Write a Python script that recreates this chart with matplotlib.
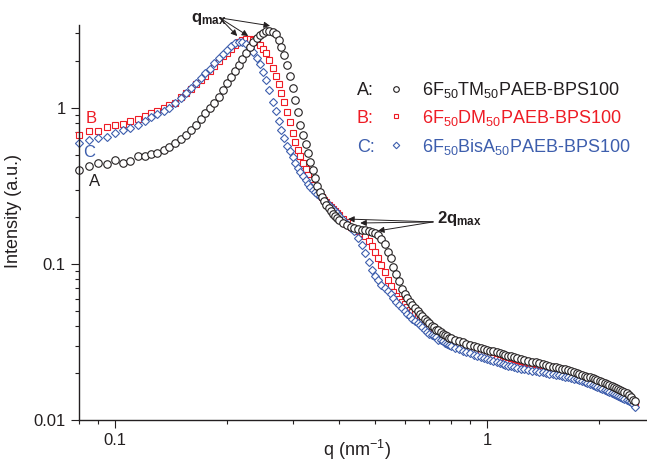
import matplotlib
matplotlib.use('Agg')
import matplotlib.pyplot as plt
from matplotlib import ticker

plt.rcParams['font.family'] = ['Liberation Sans', 'DejaVu Sans']
plt.rcParams['mathtext.fontset'] = 'custom'
plt.rcParams['mathtext.rm'] = 'Liberation Sans'
plt.rcParams['mathtext.it'] = 'Liberation Sans:italic'
plt.rcParams['mathtext.bf'] = 'Liberation Sans:bold'
plt.rcParams['mathtext.default'] = 'regular'

# scattering vector q (nm^-1), shared by the three samples
q = [0.080, 0.085, 0.090, 0.095, 0.100, 0.105, 0.110, 0.115, 0.120, 0.125,
     0.130, 0.135, 0.140, 0.145, 0.150, 0.155, 0.160, 0.165, 0.170, 0.175,
     0.180, 0.185, 0.190, 0.195, 0.200,
     0.205, 0.210, 0.215, 0.220, 0.225, 0.230, 0.235, 0.240, 0.245, 0.250,
     0.255, 0.260, 0.265, 0.270, 0.275, 0.280, 0.285, 0.290, 0.295, 0.300,
     0.305, 0.310, 0.315, 0.320, 0.325, 0.330, 0.335, 0.340, 0.345, 0.350,
     0.355, 0.360, 0.365, 0.370, 0.375, 0.380, 0.385, 0.390, 0.395, 0.400,
     0.41, 0.42, 0.43, 0.44, 0.45, 0.46, 0.47, 0.48, 0.49, 0.50,
     0.51, 0.52, 0.53, 0.54, 0.55, 0.56, 0.57, 0.58, 0.59, 0.60,
     0.61, 0.62, 0.63, 0.64, 0.65, 0.66, 0.67, 0.68, 0.69, 0.70,
     0.71, 0.72, 0.73, 0.74, 0.75, 0.76, 0.77, 0.78, 0.79, 0.80,
     0.82, 0.84, 0.86, 0.88, 0.90, 0.92, 0.94, 0.96, 0.98, 1.00,
     1.02, 1.04, 1.06, 1.08, 1.10, 1.12, 1.14, 1.16, 1.18, 1.20,
     1.23, 1.26, 1.29, 1.32, 1.35, 1.38, 1.41, 1.44, 1.47, 1.50,
     1.53, 1.56, 1.59, 1.62, 1.65, 1.68, 1.71, 1.74, 1.77, 1.80,
     1.83, 1.86, 1.89, 1.92, 1.95, 1.98, 2.01, 2.04, 2.07, 2.10,
     2.13, 2.16, 2.19, 2.22, 2.25, 2.28, 2.31, 2.34, 2.37, 2.40,
     2.43, 2.46, 2.49]

# A: 6F50TM50PAEB-BPS100
int_a = [0.401, 0.425, 0.444, 0.437, 0.464, 0.444, 0.457, 0.493, 0.493, 0.507,
         0.515, 0.538, 0.562, 0.597, 0.633, 0.671, 0.723, 0.778, 0.850, 0.929,
         1.00, 1.08, 1.18, 1.30, 1.45,
         1.58, 1.73, 1.89, 2.06, 2.25, 2.46, 2.65, 2.81, 2.94, 3.03,
         3.12, 3.12, 3.07, 2.98, 2.73, 2.46, 2.19, 1.89, 1.60, 1.34,
         1.13, 0.943, 0.778, 0.671, 0.588, 0.515, 0.451, 0.401, 0.356, 0.316,
         0.289, 0.269, 0.254, 0.239, 0.229, 0.219, 0.209, 0.203, 0.197, 0.191,
         0.183, 0.178, 0.173, 0.170, 0.168, 0.165, 0.165, 0.163, 0.160, 0.158,
         0.153, 0.145, 0.134, 0.120, 0.109, 0.0957, 0.0863, 0.0778, 0.0690, 0.0641,
         0.0605, 0.0571, 0.0546, 0.0522, 0.0499, 0.0477, 0.0463, 0.0442, 0.0429, 0.0416,
         0.0398, 0.0392, 0.0380, 0.0375, 0.0364, 0.0358, 0.0348, 0.0343, 0.0333, 0.0333,
         0.0326, 0.0321, 0.0316, 0.0307, 0.0303, 0.0298, 0.0294, 0.0289, 0.0285, 0.0281,
         0.0277, 0.0277, 0.0273, 0.0269, 0.0265, 0.0262, 0.0258, 0.0258, 0.0254, 0.0251,
         0.0247, 0.0243, 0.0239, 0.0235, 0.0235, 0.0232, 0.0228, 0.0225, 0.0222, 0.0219,
         0.0219, 0.0215, 0.0212, 0.0212, 0.0209, 0.0206, 0.0203, 0.0200, 0.0197, 0.0194,
         0.0192, 0.0189, 0.0189, 0.0186, 0.0183, 0.0180, 0.0178, 0.0175, 0.0173, 0.0170,
         0.0168, 0.0165, 0.0163, 0.0161, 0.0158, 0.0156, 0.0154, 0.0151, 0.0149, 0.0145,
         0.0140, 0.0135, 0.0132]

# B: 6F50DM50PAEB-BPS100
int_b = [0.671, 0.712, 0.712, 0.755, 0.778, 0.790, 0.825, 0.850, 0.889, 0.929,
         0.957, 1.00, 1.045, 1.08, 1.18, 1.25, 1.32, 1.43, 1.51, 1.60,
         1.73, 1.86, 2.00, 2.15, 2.25,
         2.39, 2.53, 2.65, 2.73, 2.77, 2.77, 2.73, 2.65, 2.53, 2.39,
         2.25, 2.03, 1.80, 1.60, 1.43, 1.25, 1.09, 0.943, 0.814, 0.691,
         0.605, 0.538, 0.493, 0.444, 0.407, 0.372, 0.346, 0.321, 0.303, 0.289,
         0.277, 0.269, 0.257, 0.250, 0.239, 0.232, 0.225, 0.219, 0.212, 0.206,
         0.194, 0.186, 0.173, 0.168, 0.163, 0.158, 0.151, 0.141, 0.130, 0.120,
         0.109, 0.0987, 0.0890, 0.0789, 0.0722, 0.0661, 0.0623, 0.0596, 0.0571, 0.0555,
         0.0530, 0.0507, 0.0492, 0.0477, 0.0463, 0.0449, 0.0438, 0.0424, 0.0411, 0.0398,
         0.0386, 0.0375, 0.0364, 0.0353, 0.0343, 0.0338, 0.0328, 0.0326, 0.0321, 0.0316,
         0.0307, 0.0298, 0.0294, 0.0285, 0.0281, 0.0273, 0.0269, 0.0265, 0.0262, 0.0258,
         0.0254, 0.0251, 0.0247, 0.0243, 0.0239, 0.0235, 0.0232, 0.0228, 0.0225, 0.0222,
         0.0219, 0.0215, 0.0212, 0.0212, 0.0209, 0.0206, 0.0206, 0.0203, 0.0200, 0.0200,
         0.0197, 0.0197, 0.0194, 0.0192, 0.0192, 0.0189, 0.0186, 0.0186, 0.0183, 0.0180,
         0.0178, 0.0175, 0.0173, 0.0170, 0.0168, 0.0165, 0.0163, 0.0161, 0.0158, 0.0156,
         0.0154, 0.0151, 0.0149, 0.0147, 0.0145, 0.0143, 0.0140, 0.0140, 0.0138, 0.0136,
         0.0134, 0.0130, 0.0126]

# C: 6F50BisA50PAEB-BPS100
int_c = [0.597, 0.624, 0.642, 0.652, 0.691, 0.723, 0.744, 0.778, 0.825, 0.876,
         0.915, 0.957, 1.00, 1.08, 1.16, 1.25, 1.34, 1.45, 1.56, 1.68,
         1.78, 1.94, 2.09, 2.22, 2.35,
         2.50, 2.61, 2.65, 2.65, 2.57, 2.46, 2.28, 2.09, 1.91, 1.70,
         1.51, 1.30, 1.09, 0.957, 0.825, 0.723, 0.642, 0.571, 0.530, 0.485,
         0.444, 0.413, 0.389, 0.367, 0.346, 0.326, 0.312, 0.298, 0.289, 0.281,
         0.273, 0.265, 0.257, 0.250, 0.239, 0.232, 0.225, 0.219, 0.212, 0.203,
         0.191, 0.181, 0.170, 0.163, 0.147, 0.132, 0.118, 0.103, 0.0917, 0.0840,
         0.0789, 0.0730, 0.0701, 0.0670, 0.0641, 0.0605, 0.0571, 0.0546, 0.0522, 0.0499,
         0.0477, 0.0463, 0.0442, 0.0429, 0.0416, 0.0404, 0.0392, 0.0380, 0.0369, 0.0358,
         0.0353, 0.0343, 0.0338, 0.0328, 0.0326, 0.0321, 0.0312, 0.0307, 0.0303, 0.0298,
         0.0289, 0.0285, 0.0277, 0.0273, 0.0269, 0.0262, 0.0258, 0.0254, 0.0251, 0.0247,
         0.0243, 0.0239, 0.0235, 0.0232, 0.0228, 0.0225, 0.0222, 0.0222, 0.0219, 0.0215,
         0.0212, 0.0212, 0.0209, 0.0206, 0.0206, 0.0203, 0.0203, 0.0200, 0.0197, 0.0197,
         0.0194, 0.0194, 0.0192, 0.0189, 0.0189, 0.0186, 0.0183, 0.0183, 0.0180, 0.0178,
         0.0175, 0.0173, 0.0170, 0.0168, 0.0165, 0.0163, 0.0161, 0.0158, 0.0156, 0.0154,
         0.0151, 0.0149, 0.0147, 0.0145, 0.0143, 0.0140, 0.0138, 0.0136, 0.0134, 0.0132,
         0.0130, 0.0126, 0.0121]

letters = ['A:', 'B:', 'C:']
names = [r'6F$_{50}$TM$_{50}$PAEB-BPS100',
         r'6F$_{50}$DM$_{50}$PAEB-BPS100',
         r'6F$_{50}$BisA$_{50}$PAEB-BPS100']
colors = ['#231f20', '#ee1c25', '#3d5ead']
markers = ['o', 's', 'D']
sizes = [5.4, 4.8, 4.4]

fig = plt.figure(figsize=(6.47, 4.62), dpi=100)
ax = fig.add_axes([0.1221, 0.0909, 0.8779, 0.855])

# draw B, then C, then A so the black circles sit on top
for i in [1, 2, 0]:
    ax.plot(q, [int_a, int_b, int_c][i], ls='none', marker=markers[i],
            ms=sizes[i], mfc='white', mec=colors[i], mew=0.8, clip_on=False)

ax.set_xscale('log')
ax.set_yscale('log')
ax.set_xlim(0.08, 2.69)
ax.set_ylim(0.01, 3.4)

fmt = ticker.FuncFormatter(lambda v, _: f'{v:g}')
ax.xaxis.set_major_formatter(fmt)
ax.yaxis.set_major_formatter(fmt)
ax.xaxis.set_minor_formatter(ticker.NullFormatter())
ax.yaxis.set_minor_formatter(ticker.NullFormatter())
ax.tick_params(which='major', direction='out', length=6, width=0.8,
               labelsize=12, colors='#231f20')
ax.tick_params(which='minor', direction='out', length=3, width=0.8,
               colors='#231f20')
for side in ['top', 'right']:
    ax.spines[side].set_visible(False)
for side in ['left', 'bottom']:
    ax.spines[side].set_linewidth(1.0)
    ax.spines[side].set_color('#231f20')

ax.set_xlabel('q (nm$^{-1}$)', fontsize=13, color='#231f20')
ax.set_ylabel('Intensity (a.u.)', fontsize=13, color='#231f20')
ax.xaxis.set_label_coords(0.49, -0.045)
ax.yaxis.set_label_coords(-0.101, 0.53)

# curve tags next to the low-q ends
ax.text(0.0862, 0.85, 'B', color=colors[1], fontsize=12, ha='center', va='center')
ax.text(0.0851, 0.515, 'C', color=colors[2], fontsize=12, ha='center', va='center')
ax.text(0.0878, 0.34, 'A', color=colors[0], fontsize=12, ha='center', va='center')

# key in the upper right
rows_base = [0.8228, 0.7519, 0.6785]
rows_mid = [0.8392, 0.7684, 0.6962]
for i in range(3):
    ax.text(0.4894, rows_base[i], letters[i], transform=ax.transAxes,
            color=colors[i], fontsize=13, va='baseline')
    ax.plot([0.558], [rows_mid[i]], transform=ax.transAxes, ls='none',
            marker=markers[i], ms=sizes[i] * 0.75, mfc='white', mec=colors[i],
            mew=0.8, clip_on=False)
    ax.text(0.604, rows_base[i], names[i], transform=ax.transAxes,
            color=colors[i], fontsize=13, va='baseline')

arrow = dict(arrowstyle='-|>', color='#231f20', lw=0.7, mutation_scale=9,
             shrinkA=0, shrinkB=0)

# first-order peak positions
ax.text(0.160, 3.56, r'$\mathbf{q}_{\mathbf{max}}$', fontsize=12,
        color='#231f20', va='baseline')
for tq, ti in [(0.213, 2.89), (0.228, 2.89), (0.261, 3.36)]:
    ax.annotate('', xy=(tq, ti), xytext=(0.191, 3.78), arrowprops=arrow,
                annotation_clip=False)

# second-order reflections
ax.text(0.734, 0.183, r'$\mathbf{2q}_{\mathbf{max}}$', fontsize=12,
        color='#231f20', va='baseline')
for tq, ti in [(0.423, 0.194), (0.456, 0.183), (0.509, 0.163)]:
    ax.annotate('', xy=(tq, ti), xytext=(0.716, 0.186), arrowprops=arrow,
                annotation_clip=False)

fig.savefig('out.png', dpi=100)
